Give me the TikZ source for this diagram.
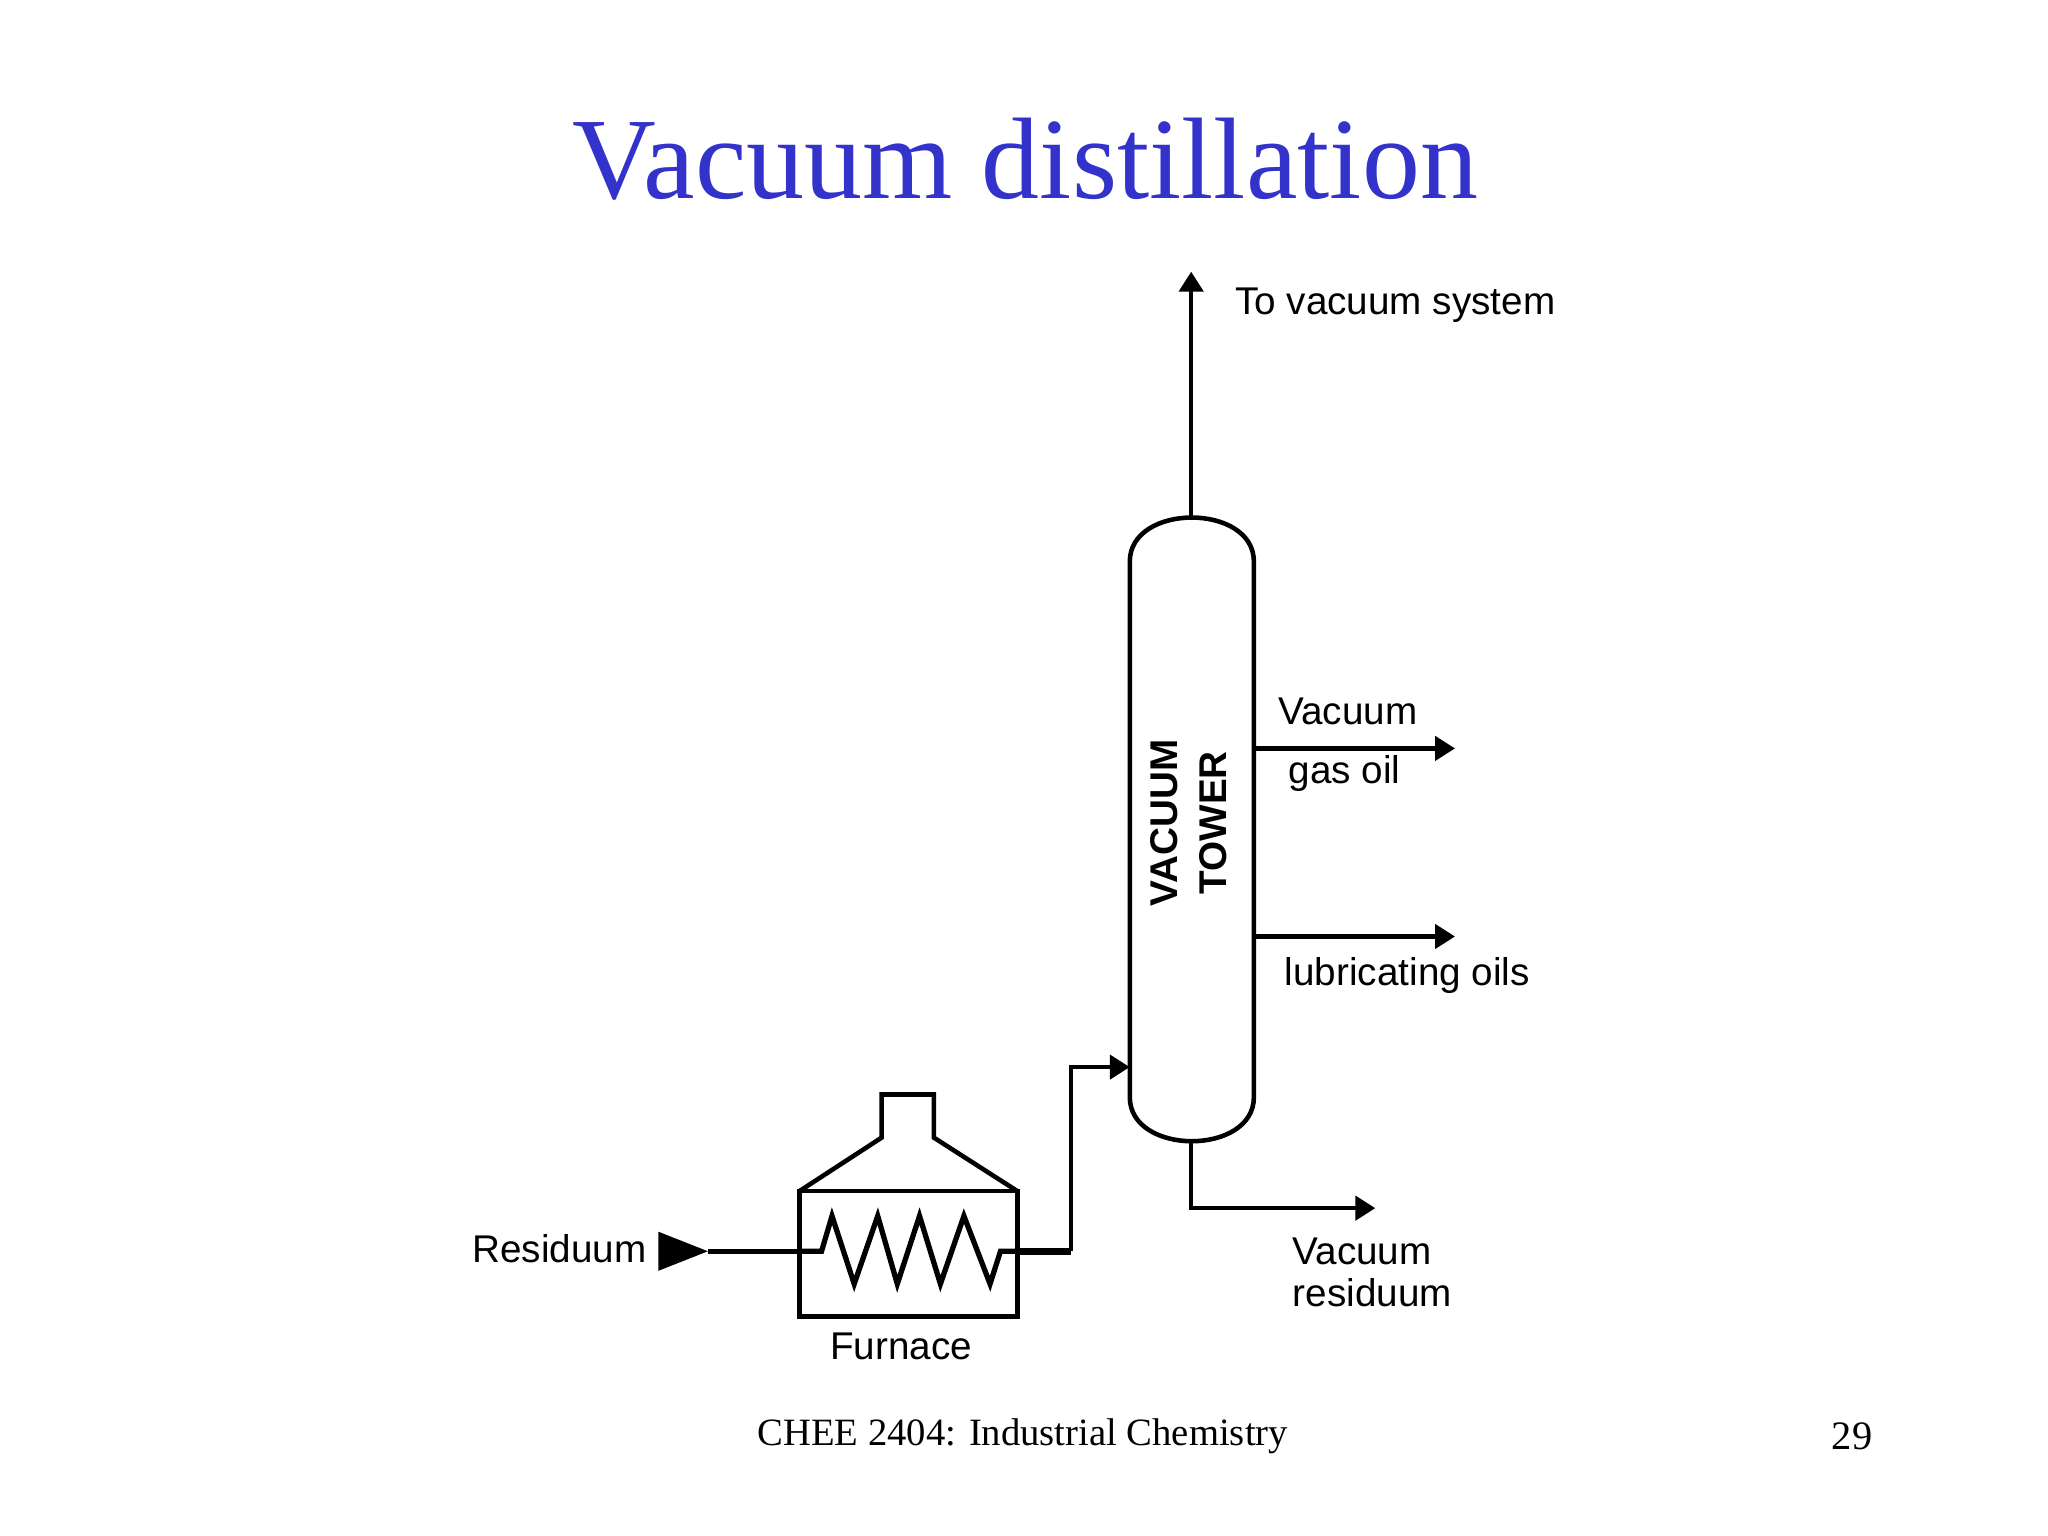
\documentclass[tikz,border=0pt]{standalone}
\usepackage{fontspec}
\setmainfont{Liberation Serif}
\newfontfamily\lab{Liberation Sans}
\usetikzlibrary{arrows.meta}
\definecolor{titleblue}{RGB}{51,51,204}
\begin{document}
\begin{tikzpicture}[x=0.01306cm,y=-0.01306cm,
  line width=1.3pt,
  lbl/.style={font=\lab\fontsize{11}{13}\selectfont,inner sep=0pt},
  arr/.style={-{Triangle[length=0.2cm,width=0.24cm]}}]
\useasboundingbox (0,0) rectangle (1568,1176);
\node[font=\fontsize{33}{40}\selectfont,text=titleblue] (title) at (785,122) {Vacuum distillation};
\node[font=\fontsize{11}{14}\selectfont] (foot) at (783,1100) {CHEE 2404: Industrial Chemistry};
\node[font=\fontsize{11.5}{14}\selectfont] (page) at (1418,1100) {29};
% tower
\draw (865,430) .. controls (865,385) and (960,385) .. (960,430) -- (960,840)
  .. controls (960,885) and (865,885) .. (865,840) -- cycle;
\coordinate (ttop) at (912,396);
\coordinate (tbot) at (912,873);
\node[lbl,font=\lab\bfseries\fontsize{11}{14}\selectfont,rotate=90,align=center] (tname) at (910,630) {VACUUM\\TOWER};
% top
\coordinate (vtip) at (912,208);
\draw[arr] (ttop) -- (vtip);
\node[lbl,anchor=west] (vs) at (944,234) {To vacuum system};
% side draws
\coordinate (g1) at (960,573); \coordinate (g2) at (1114,573);
\draw[arr] (g1) -- (g2);
\node[lbl,anchor=west] (vgo1) at (977,545) {Vacuum};
\node[lbl,anchor=west] (vgo2) at (985,592) {gas oil};
\coordinate (l1) at (960,717); \coordinate (l2) at (1114,717);
\draw[arr] (l1) -- (l2);
\node[lbl,anchor=west] (lo) at (982,747) {lubricating oils};
% bottom
\coordinate (b2) at (1053,925);
\draw[arr] (tbot) |- (b2);
\node[lbl,anchor=west,align=left] (vr) at (988,974) {Vacuum\\[-1pt]residuum};
% furnace
\draw (612,1008) rectangle (779,912);
\draw (612,912) -- (675,871) -- (675,838) -- (715,838) -- (715,871) -- (779,912);
\node[lbl] (furn) at (690,1031) {Furnace};
\draw[line width=1.5pt] (612,958) -- (629,958) -- (637,931) -- (654,983) -- (672,931) -- (687,983)
  -- (704,931) -- (720,983) -- (738,931) -- (758,983) -- (766,958) -- (779,958);
% feed in
\node[lbl,anchor=west] (res) at (360,956) {Residuum};
\coordinate (f0) at (504,958); \coordinate (f1) at (542,958);
\fill (504,943) -- (542,958) -- (504,973) -- cycle;
\draw (f1) -- (612,958);
% to tower
\coordinate (fo) at (779,958); \coordinate (fin) at (865,817);
\draw[line width=2pt] (fo) -- (820,958);
\draw[arr] (820,958) |- (fin);
\end{tikzpicture}
\end{document}
